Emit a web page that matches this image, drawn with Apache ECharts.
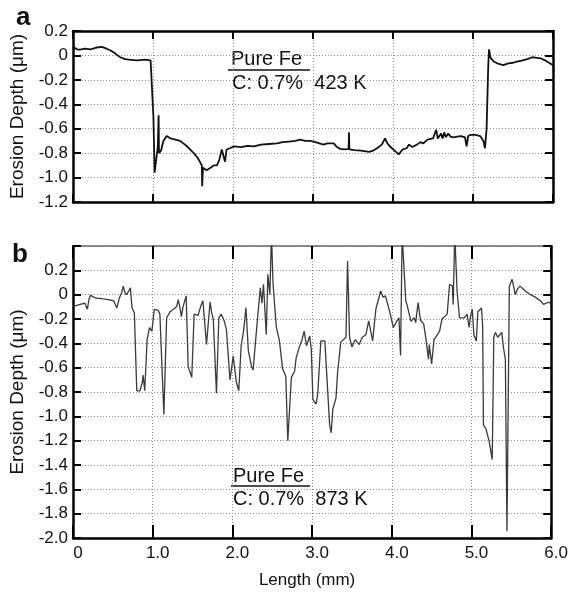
<!DOCTYPE html>
<html>
<head>
<meta charset="utf-8">
<script src="https://cdn.jsdelivr.net/npm/echarts@6/dist/echarts.min.js"></script>
<style>
  html, body { margin: 0; padding: 0; background: #fff; }
  #main { width: 571px; height: 594px; }
</style>
</head>
<body>
<div id="main"></div>
<script>
// panel a : 423 K
var lenA = [0.00, 0.05, 0.09, 0.15, 0.22, 0.30, 0.36, 0.42, 0.47, 0.53, 0.59, 0.65, 0.70, 0.80, 0.90, 0.97, 0.99,
  1.005, 1.02, 1.03, 1.05, 1.06, 1.07, 1.075, 1.10, 1.13, 1.17, 1.22, 1.28, 1.34, 1.40, 1.45, 1.51, 1.56, 1.61,
  1.615, 1.625, 1.67, 1.72, 1.76, 1.80, 1.83, 1.86, 1.88, 1.90, 1.92, 1.96, 2.01, 2.10, 2.18, 2.26, 2.35, 2.45,
  2.55, 2.62, 2.70, 2.78, 2.84, 2.90, 2.97, 3.03, 3.08, 3.13, 3.18, 3.26, 3.30, 3.34, 3.40, 3.445, 3.45, 3.455,
  3.52, 3.60, 3.70, 3.75, 3.80, 3.86, 3.90, 3.93, 3.97, 4.02, 4.07, 4.12, 4.17, 4.20, 4.24, 4.30, 4.34, 4.38,
  4.43, 4.50, 4.54, 4.56, 4.60, 4.62, 4.64, 4.66, 4.69, 4.72, 4.76, 4.80, 4.85, 4.90, 4.92, 4.94, 4.97, 5.03,
  5.09, 5.13, 5.15, 5.17, 5.19, 5.20, 5.22, 5.26, 5.32, 5.38, 5.44, 5.50, 5.55, 5.62, 5.68, 5.74, 5.80, 5.85,
  5.90, 5.95, 6.00];
var depthA = [0.07, 0.05, 0.047, 0.055, 0.05, 0.065, 0.07, 0.055, 0.04, 0.015, -0.015, -0.03, -0.035, -0.04, -0.035, -0.04, -0.035,
  -0.5, -0.96, -0.96, -0.80, -0.75, -0.49, -0.80, -0.78, -0.70, -0.66, -0.68, -0.69, -0.70, -0.73, -0.76, -0.80, -0.84, -0.90,
  -1.07, -0.92, -0.94, -0.92, -0.90, -0.90, -0.85, -0.77, -0.78, -0.87, -0.77, -0.76, -0.745, -0.75, -0.74, -0.745, -0.73, -0.725,
  -0.72, -0.71, -0.705, -0.70, -0.69, -0.70, -0.70, -0.71, -0.72, -0.73, -0.72, -0.72, -0.75, -0.765, -0.77, -0.765, -0.63, -0.77,
  -0.775, -0.78, -0.79, -0.78, -0.76, -0.73, -0.68, -0.72, -0.75, -0.78, -0.81, -0.77, -0.76, -0.73, -0.75, -0.73, -0.71, -0.72,
  -0.69, -0.68, -0.61, -0.68, -0.64, -0.68, -0.63, -0.67, -0.64, -0.665, -0.67, -0.665, -0.66, -0.67, -0.745, -0.66, -0.65, -0.65,
  -0.66, -0.70, -0.76, -0.60, -0.10, 0.05, -0.02, -0.05, -0.07, -0.08, -0.065, -0.06, -0.05, -0.04, -0.03, -0.015, -0.02, -0.025,
  -0.04, -0.06, -0.08];

// panel b : 873 K
var lenB = [0.00, 0.04, 0.09, 0.15, 0.18, 0.20, 0.22, 0.26, 0.30, 0.34, 0.38, 0.44, 0.51, 0.55, 0.58, 0.61, 0.63, 0.65,
  0.67, 0.70, 0.72, 0.74, 0.77, 0.78, 0.80, 0.84, 0.87, 0.88, 0.90, 0.93, 0.96, 0.99, 1.02, 1.07, 1.09, 1.14, 1.175,
  1.22, 1.26, 1.30, 1.32, 1.34, 1.36, 1.38, 1.42, 1.445, 1.49, 1.52, 1.57, 1.60, 1.63, 1.675, 1.70, 1.72, 1.74, 1.76,
  1.80, 1.83, 1.86, 1.90, 1.925, 1.97, 2.01, 2.05, 2.08, 2.11, 2.14, 2.17, 2.20, 2.24, 2.26, 2.30, 2.35, 2.37, 2.39,
  2.425, 2.445, 2.47, 2.49, 2.51, 2.55, 2.59, 2.63, 2.67, 2.695, 2.71, 2.74, 2.78, 2.80, 2.84, 2.87, 2.90, 2.93, 2.97,
  2.99, 3.01, 3.05, 3.07, 3.11, 3.16, 3.22, 3.24, 3.26, 3.30, 3.32, 3.36, 3.425, 3.445, 3.47, 3.50, 3.54, 3.59, 3.63,
  3.675, 3.71, 3.76, 3.80, 3.86, 3.89, 3.92, 3.97, 4.02, 4.06, 4.09, 4.11, 4.13, 4.15, 4.175, 4.19, 4.24, 4.28, 4.30,
  4.33, 4.36, 4.40, 4.43, 4.46, 4.47, 4.50, 4.53, 4.57, 4.60, 4.63, 4.695, 4.725, 4.76, 4.77, 4.79, 4.82, 4.85, 4.91,
  4.945, 4.97, 4.99, 5.01, 5.03, 5.06, 5.08, 5.125, 5.14, 5.15, 5.18, 5.22, 5.26, 5.28, 5.30, 5.33, 5.38, 5.40, 5.425,
  5.445, 5.475, 5.51, 5.55, 5.58, 5.61, 5.675, 5.74, 5.80, 5.865, 5.905, 5.97, 6.00];
var depthB = [-0.09, -0.09, -0.08, -0.07, -0.12, -0.04, -0.005, -0.02, -0.03, -0.03, -0.035, -0.04, -0.05, -0.11, -0.03, 0.016, 0.07, 0.02,
  0.0, 0.03, 0.057, -0.107, -0.15, -0.16, -0.79, -0.79, -0.72, -0.66, -0.79, -0.37, -0.27, -0.30, -0.12, -0.13, -0.16, -0.985, -0.19,
  -0.14, -0.12, -0.10, -0.04, -0.10, -0.18, -0.10, -0.01, -0.59, -0.68, -0.16, -0.17, -0.10, -0.05, -0.41, -0.40, -0.06, -0.15, -0.20,
  -0.81, -0.19, -0.16, -0.22, -0.29, -0.70, -0.505, -0.72, -0.79, -0.42, -0.30, -0.107, -0.46, -0.59, -0.62, -0.31, 0.057, -0.07, 0.085,
  -0.33, 0.167, 0.0, 0.5, 0.09, -0.26, -0.38, -0.61, -0.67, -1.20, -1.19, -0.68, -0.63, -0.52, -0.43, -0.38, -0.30, -0.42, -0.34,
  -0.45, -0.86, -0.90, -0.82, -0.38, -0.38, -1.07, -1.135, -0.94, -0.85, -0.64, -0.39, -0.35, 0.277, -0.35, -0.43, -0.37, -0.41, -0.35,
  -0.33, -0.215, -0.38, -0.12, 0.03, -0.02, -0.01, -0.13, -0.27, -0.22, -0.19, -0.50, 0.5, 0.5, -0.05, -0.08, -0.22, -0.19, -0.23,
  -0.066, -0.21, -0.24, -0.37, -0.53, -0.41, -0.57, -0.37, -0.33, -0.30, -0.20, -0.16, 0.085, 0.07, -0.08, 0.5, 0.02, -0.19, -0.19,
  -0.16, -0.27, -0.17, -0.12, -0.33, -0.38, -0.14, -0.11, -0.25, -1.07, -1.10, -1.20, -1.355, -0.35, -0.31, -0.35, -0.31, -0.43, -0.53,
  -1.945, 0.07, 0.126, 0.0, 0.05, 0.07, 0.03, 0.0, -0.02, -0.05, -0.08, -0.06, -0.08];

var xTicks = [0, 1, 2, 3, 4, 5, 6];

var FONT = 'Liberation Sans, Arial, sans-serif';

function pairs(xs, ys) {
  var out = [];
  for (var i = 0; i < xs.length; i++) out.push([xs[i], ys[i]]);
  return out;
}

function fmtDepth(v) {
  if (Math.abs(v) < 1e-9) return '0';
  if (v > 0.3) return '';
  return v.toFixed(1);
}

function fmtLen(v) {
  return v === 0 ? '0' : v.toFixed(1);
}

var dotted = { show: true, lineStyle: { color: '#8a8a8a', width: 1, type: [1, 2] } };

// one x axis per side of each panel
function xAxis(grid, pos, opts) {
  return {
    type: 'value', gridIndex: grid, position: pos,
    min: xTicks[0], max: xTicks[xTicks.length - 1], interval: 1,
    axisLine: { show: true, onZero: false, lineStyle: { color: opts.lineColor || '#000', width: opts.lineWidth || 2.5 } },
    axisTick: { show: true, inside: true, length: opts.tick, lineStyle: { color: '#000', width: 2 } },
    axisLabel: opts.labels ? {
      show: true, margin: 7, fontSize: 17, fontFamily: FONT, color: '#111',
      padding: [0, 0, 0, 10], formatter: fmtLen
    } : { show: false },
    splitLine: opts.grid ? dotted : { show: false },
    name: opts.name || '',
    nameLocation: 'middle', nameGap: 34,
    nameTextStyle: { fontSize: 17, fontFamily: FONT, color: '#111', padding: [0, 10, 0, 0] }
  };
}

function yAxis(grid, pos, min, max, opts) {
  return {
    type: 'value', gridIndex: grid, position: pos,
    min: min, max: max, interval: 0.2,
    axisLine: { show: true, onZero: false, lineStyle: { color: '#000', width: 2.5 } },
    axisTick: { show: true, inside: true, length: 8, lineStyle: { color: '#000', width: 2 } },
    axisLabel: opts.labels ? {
      show: true, margin: 5, fontSize: 17, fontFamily: FONT, color: '#111', formatter: fmtDepth
    } : { show: false },
    splitLine: opts.labels ? dotted : { show: false },
    name: opts.labels ? 'Erosion Depth (\u03bcm)' : '',
    nameLocation: 'middle', nameGap: 46,
    nameTextStyle: { fontSize: 19, fontFamily: FONT, color: '#111' }
  };
}

var chart = echarts.init(document.getElementById('main'), null, { renderer: 'canvas' });

var option = {
  backgroundColor: '#fff',
  animation: false,
  grid: [
    { left: 73, top: 31, width: 480, height: 171 },
    { left: 73, top: 246, width: 481, height: 292 }
  ],
  xAxis: [
    xAxis(0, 'bottom', { tick: 8, grid: true }),
    xAxis(0, 'top', { tick: 8 }),
    xAxis(1, 'bottom', { tick: 13, grid: true, labels: true, name: 'Length (mm)' }),
    xAxis(1, 'top', { tick: 13, lineColor: '#666', lineWidth: 1.5 })
  ],
  yAxis: [
    yAxis(0, 'left', -1.2, 0.2, { labels: true }),
    yAxis(0, 'right', -1.2, 0.2, {}),
    yAxis(1, 'left', -2.0, 0.4, { labels: true }),
    yAxis(1, 'right', -2.0, 0.4, {})
  ],
  series: [
    {
      type: 'line', xAxisIndex: 0, yAxisIndex: 0,
      data: pairs(lenA, depthA), showSymbol: false, clip: true,
      lineStyle: { color: '#111', width: 1.8 }
    },
    {
      type: 'line', xAxisIndex: 2, yAxisIndex: 2,
      data: pairs(lenB, depthB), showSymbol: false, clip: true,
      lineStyle: { color: '#3a3a3a', width: 1.3 }
    }
  ],
  graphic: [
    { type: 'text', left: 16, top: 5, style: { text: 'a', font: 'bold 26px ' + FONT, fill: '#111' } },
    { type: 'text', left: 12, top: 242, style: { text: 'b', font: 'bold 26px ' + FONT, fill: '#111' } },
    // annotation a
    { type: 'text', x: 231, y: 59, style: { text: 'Pure Fe', font: '20px ' + FONT, fill: '#111', verticalAlign: 'middle' } },
    { type: 'line', shape: { x1: 228, y1: 70, x2: 310, y2: 70 }, style: { stroke: '#111', lineWidth: 1.5 } },
    { type: 'text', x: 232, y: 83, style: { text: 'C: 0.7%  423 K', font: '20px ' + FONT, fill: '#111', verticalAlign: 'middle' } },
    // annotation b
    { type: 'text', x: 233, y: 476, style: { text: 'Pure Fe', font: '20px ' + FONT, fill: '#111', verticalAlign: 'middle' } },
    { type: 'line', shape: { x1: 231, y1: 486, x2: 310, y2: 486 }, style: { stroke: '#111', lineWidth: 1.5 } },
    { type: 'text', x: 233, y: 499, style: { text: 'C: 0.7%  873 K', font: '20px ' + FONT, fill: '#111', verticalAlign: 'middle' } }
  ]
};

chart.setOption(option);
</script>
</body>
</html>
